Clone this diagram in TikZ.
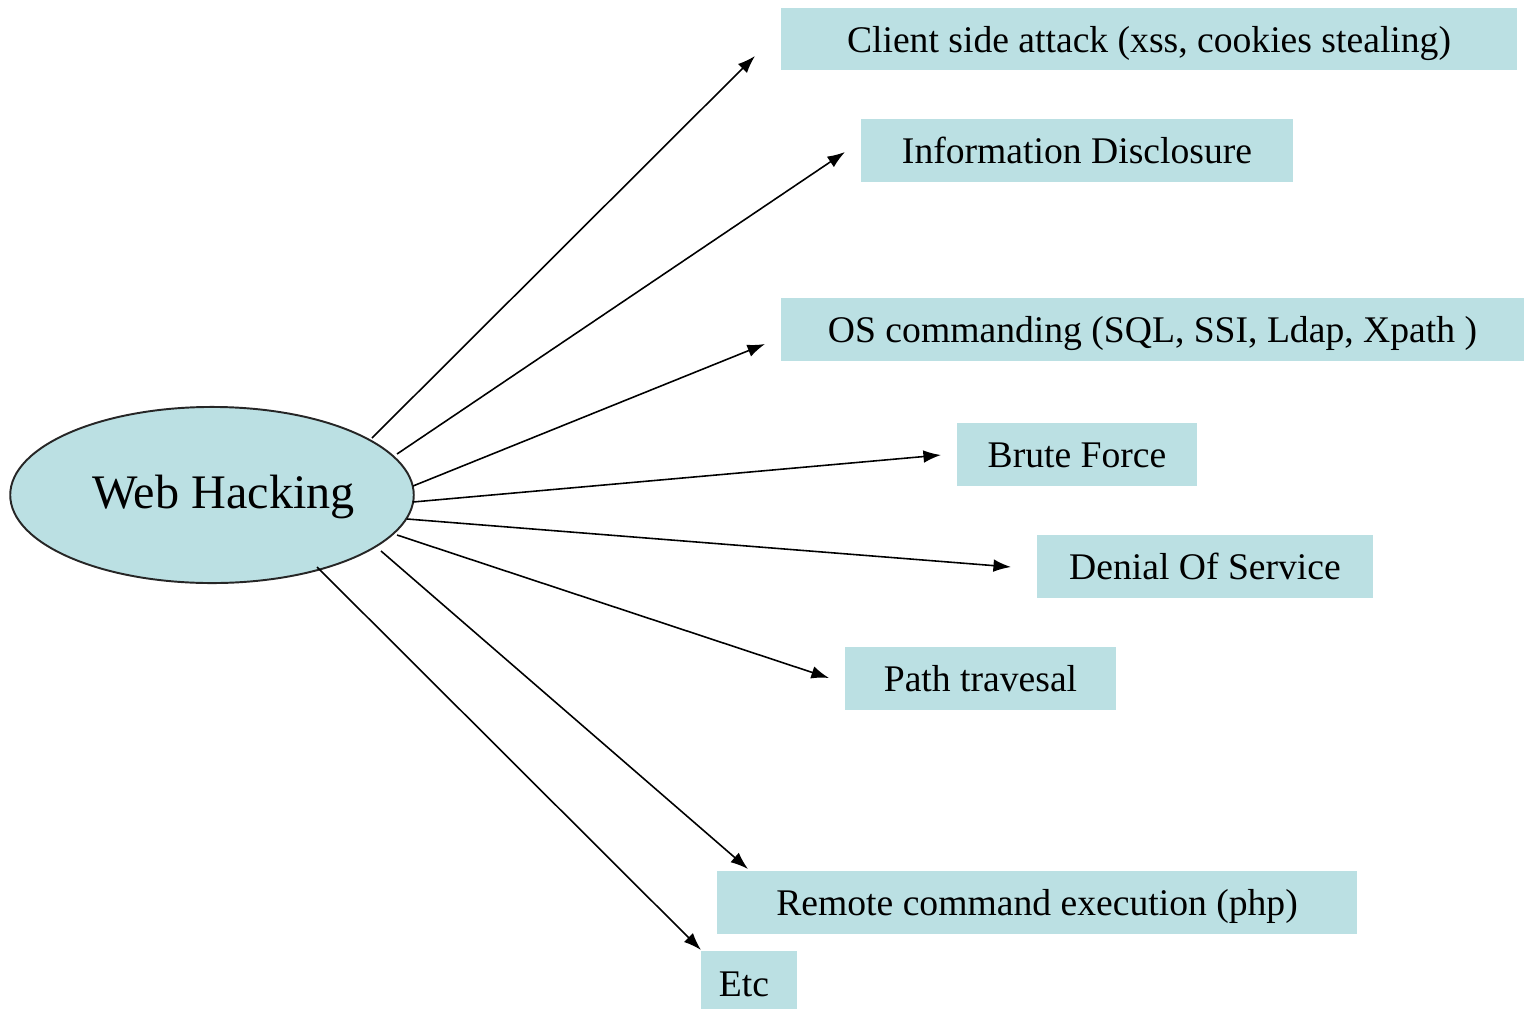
\documentclass[tikz,border=0pt]{standalone}
\usepackage{fontspec}
\setmainfont{Liberation Serif}
\usetikzlibrary{shapes.geometric,arrows.meta}
\definecolor{boxcyan}{RGB}{187,224,227}
\tikzset{
  catbox/.style={fill=boxcyan, draw=none, inner sep=0pt, text height=0.36cm, text depth=0.10cm,
    font=\fontsize{10.7pt}{12pt}\selectfont},
  conn/.style={line width=0.45pt, -{Latex[length=5pt,width=3.6pt]}},
}
\begin{document}
\begin{tikzpicture}[x=0.01cm,y=-0.01cm]
\useasboundingbox (0,0) rectangle (1524,1009);
% central ellipse
\node[ellipse, draw=black!85, line width=0.55pt, fill=boxcyan, inner sep=0pt,
      minimum width=4.01cm, minimum height=1.76cm, text height=0.45cm, text depth=0.19cm,
      font=\fontsize{13.7pt}{16pt}\selectfont] (web) at (212,495) {\hspace*{0.23cm}Web Hacking};
% boxes
\node[catbox, minimum width=7.36cm, minimum height=0.62cm] (client) at (1149,39) {Client side attack (xss, cookies stealing)};
\node[catbox, minimum width=4.32cm, minimum height=0.63cm] (info) at (1077,150.5) {Information Disclosure};
\node[catbox, minimum width=7.43cm, minimum height=0.63cm] (os) at (1152.5,329.5) {OS commanding (SQL, SSI, Ldap, Xpath )};
\node[catbox, minimum width=2.40cm, minimum height=0.63cm] (brute) at (1077,454.5) {Brute Force};
\node[catbox, minimum width=3.36cm, minimum height=0.63cm] (dos) at (1205,566.5) {Denial Of Service};
\node[catbox, minimum width=2.71cm, minimum height=0.63cm] (path) at (980.5,678.5) {Path travesal};
\node[catbox, minimum width=6.40cm, minimum height=0.63cm] (remote) at (1037,902.5) {Remote command execution (php)};
\node[catbox, minimum width=0.96cm, minimum height=0.58cm, text depth=0.04cm] (etc) at (749,980) {Etc\hspace*{0.1cm}};
% connector endpoints
\coordinate (s1) at (372,438); \coordinate (t1) at (755,56);
\coordinate (s2) at (397,454); \coordinate (t2) at (845,152);
\coordinate (s3) at (413,486); \coordinate (t3) at (765,344);
\coordinate (s4) at (413,502); \coordinate (t4) at (941,455);
\coordinate (s5) at (407,519); \coordinate (t5) at (1011,567);
\coordinate (s6) at (397,535); \coordinate (t6) at (829,678);
\coordinate (s7) at (381,551); \coordinate (t7) at (748,869);
\coordinate (s8) at (317,567); \coordinate (t8) at (701,950);
\draw[conn] (s1) -- (t1);
\draw[conn] (s2) -- (t2);
\draw[conn] (s3) -- (t3);
\draw[conn] (s4) -- (t4);
\draw[conn] (s5) -- (t5);
\draw[conn] (s6) -- (t6);
\draw[conn] (s7) -- (t7);
\draw[conn] (s8) -- (t8);
\end{tikzpicture}
\end{document}
